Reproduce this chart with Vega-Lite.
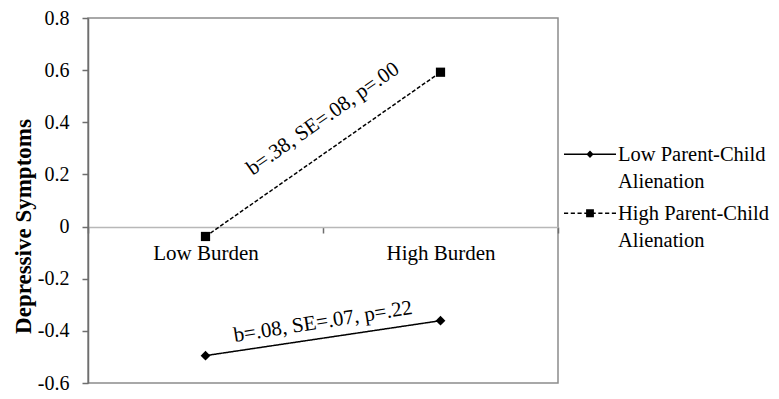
{
  "$schema": "https://vega.github.io/schema/vega-lite/v6.json",
  "width": 470,
  "height": 365,
  "autosize": "none",
  "padding": {"left": 88, "top": 18, "right": 221, "bottom": 16},
  "background": "white",
  "config": {
    "font": "Liberation Serif",
    "view": {"stroke": "#8c8c8c", "strokeWidth": 1.5},
    "style": {"guide-label": {"lineHeight": 27}},
    "legend": {
      "title": null, "orient": "none", "legendX": 475, "legendY": 116,
      "labelFontSize": 20.5, "labelColor": "black", "labelLimit": 300, "labelOffset": 1,
      "labelBaseline": "alphabetic", "symbolSize": 2704, "rowPadding": -12,
      "symbolFillColor": "black", "symbolStrokeColor": "black", "symbolStrokeWidth": 1.5
    }
  },
  "data": {
    "values": [
      {"burden": "Low Burden", "group": "Low Parent-Child Alienation", "value": -0.495},
      {"burden": "High Burden", "group": "Low Parent-Child Alienation", "value": -0.361},
      {"burden": "Low Burden", "group": "High Parent-Child Alienation", "value": -0.038},
      {"burden": "High Burden", "group": "High Parent-Child Alienation", "value": 0.592}
    ]
  },
  "layer": [
    {
      "mark": {"type": "point", "filled": true, "color": "black", "size": 2704, "opacity": 0},
      "encoding": {
        "x": {
          "field": "burden", "type": "nominal",
          "scale": {"type": "band", "domain": ["Low Burden", "High Burden"], "paddingInner": 0, "paddingOuter": 0},
          "axis": {
            "title": null, "orient": "bottom", "offset": -156,
            "domainColor": "#b8b8b8", "domainWidth": 1.5,
            "tickColor": "#6e6e6e", "tickSize": 6, "tickWidth": 1.5, "tickBand": "extent",
            "labelFontSize": 21, "labelColor": "black", "labelPadding": 9, "labelAngle": 0, "grid": false
          }
        },
        "y": {
          "field": "value", "type": "quantitative",
          "scale": {"domain": [-0.6, 0.8], "nice": false, "zero": false},
          "axis": {
            "title": "Depressive Symptoms", "titleFontSize": 23, "titleFontWeight": "bold", "titleColor": "black",
            "titleX": -65, "titleY": 208, "titleAngle": 270, "titleAlign": "center", "titleBaseline": "middle",
            "values": [-0.6, -0.4, -0.2, 0, 0.2, 0.4, 0.6, 0.8],
            "labelExpr": "toString(round(datum.value*10)/10)",
            "labelFontSize": 20, "labelColor": "black", "labelPadding": 13, "labelFlush": false, "labelOverlap": false,
            "tickSize": 6, "tickColor": "#6e6e6e", "tickWidth": 1.5,
            "domainColor": "#6e6e6e", "domainWidth": 1.5, "grid": false
          }
        },
        "shape": {
          "field": "group", "type": "nominal",
          "scale": {
            "domain": ["Low Parent-Child Alienation", "High Parent-Child Alienation"],
            "range": [
              "M-1,-0.29H1V-0.23H-1ZM0,-0.4L0.14,-0.26L0,-0.12L-0.14,-0.26Z",
              "M-1,-0.29H-0.84V-0.23H-1ZM-0.74,-0.29H-0.58V-0.23H-0.74ZM-0.48,-0.29H-0.32V-0.23H-0.48ZM-0.22,-0.29H-0.15V-0.23H-0.22ZM0.15,-0.29H0.22V-0.23H0.15ZM0.32,-0.29H0.48V-0.23H0.32ZM0.58,-0.29H0.74V-0.23H0.58ZM0.84,-0.29H1V-0.23H0.84ZM-0.15,-0.41H0.15V-0.11H-0.15Z"
            ]
          },
          "legend": {"labelExpr": "[replace(datum.label, ' Alienation', ''), 'Alienation']"}
        },
        "strokeDash": {
          "field": "group", "type": "nominal",
          "scale": {"domain": ["Low Parent-Child Alienation", "High Parent-Child Alienation"], "range": [[1, 0], [4, 2]]},
          "legend": {"labelExpr": "[replace(datum.label, ' Alienation', ''), 'Alienation']"}
        }
      }
    },
    {
      "mark": {"type": "line", "color": "black", "strokeWidth": 1.5},
      "encoding": {
        "x": {"field": "burden", "type": "nominal"},
        "y": {"field": "value", "type": "quantitative"},
        "strokeDash": {
          "field": "group", "type": "nominal",
          "legend": {"labelExpr": "[replace(datum.label, ' Alienation', ''), 'Alienation']"}
        }
      }
    },
    {
      "transform": [{"filter": "datum.group === 'Low Parent-Child Alienation'"}],
      "mark": {"type": "point", "shape": "diamond", "filled": true, "color": "black", "size": 95, "opacity": 1},
      "encoding": {
        "x": {"field": "burden", "type": "nominal"},
        "y": {"field": "value", "type": "quantitative"}
      }
    },
    {
      "transform": [{"filter": "datum.group === 'High Parent-Child Alienation'"}],
      "mark": {"type": "point", "shape": "square", "filled": true, "color": "black", "size": 85, "opacity": 1},
      "encoding": {
        "x": {"field": "burden", "type": "nominal"},
        "y": {"field": "value", "type": "quantitative"}
      }
    },
    {
      "data": {"values": [{"burden": "High Burden", "value": 0.413, "label": "b=.38, SE=.08, p=.00"}]},
      "mark": {"type": "text", "angle": 325, "fontSize": 21, "color": "black", "align": "center", "baseline": "middle"},
      "encoding": {
        "x": {"field": "burden", "type": "nominal", "bandPosition": 0},
        "y": {"field": "value", "type": "quantitative"},
        "text": {"field": "label"}
      }
    },
    {
      "data": {"values": [{"burden": "High Burden", "value": -0.366, "label": "b=.08, SE=.07, p=.22"}]},
      "mark": {"type": "text", "angle": 351, "fontSize": 21, "color": "black", "align": "center", "baseline": "middle"},
      "encoding": {
        "x": {"field": "burden", "type": "nominal", "bandPosition": 0},
        "y": {"field": "value", "type": "quantitative"},
        "text": {"field": "label"}
      }
    }
  ]
}
